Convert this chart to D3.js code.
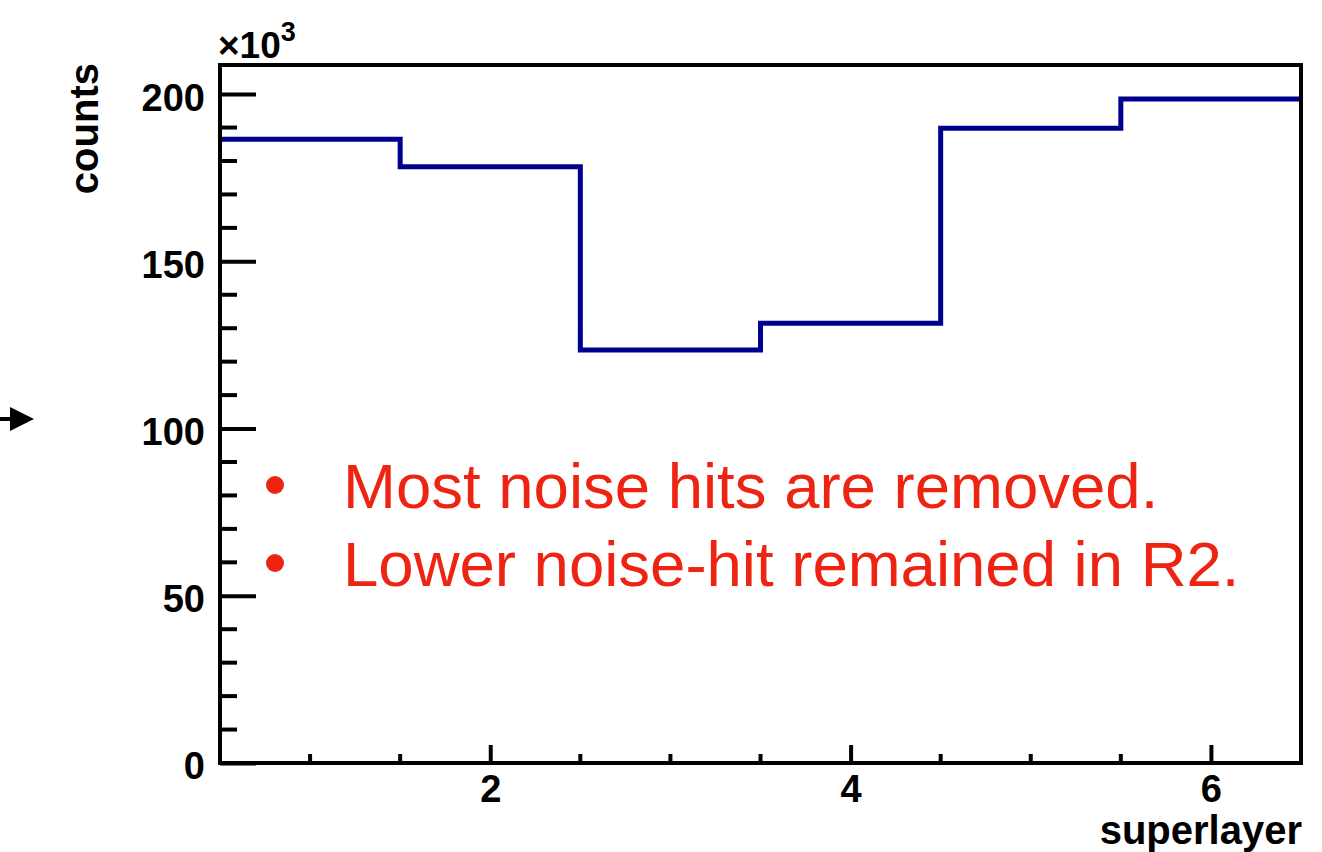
<!DOCTYPE html>
<html>
<head>
<meta charset="utf-8">
<script src="https://cdn.jsdelivr.net/npm/d3@7"></script>
<style>
  html, body { margin: 0; padding: 0; background: #fff; }
  svg { display: block; }
  text { font-family: "Liberation Sans", Arial, Helvetica, sans-serif; }
</style>
</head>
<body>
<svg id="chart" width="1322" height="852"></svg>
<script>
// Hit counts per superlayer, in units of 10^3
const superlayers = [1, 2, 3, 4, 5, 6];
const counts = [186.5, 178.3, 123.5, 131.5, 189.8, 198.5];
const xMajorTicks = [2, 4, 6];
const yMajorTicks = [0, 50, 100, 150, 200];
const notes = ["Most noise hits are removed.", "Lower noise-hit remained in R2."];

const svg = d3.select("#chart");
const frame = { left: 220, right: 1301, top: 65, bottom: 763 };

const x = d3.scaleLinear().domain([0.5, 6.5]).range([frame.left, frame.right]);
const y = d3.scaleLinear().domain([0, 208.7]).range([frame.bottom, frame.top]);

// Minor tick positions
const xMinor = d3.range(1, 6.01, 0.5).filter(v => !xMajorTicks.includes(v));
const yMinor = d3.range(10, 201, 10).filter(v => !yMajorTicks.includes(v));

// Y axis: ticks drawn inward (to the right of the axis line)
const yAxis = d3.axisLeft(y).tickValues(yMajorTicks).tickSize(-36).tickPadding(15).tickFormat(d3.format("d"));
const gy = svg.append("g").attr("transform", `translate(${frame.left},0)`).call(yAxis);
gy.select(".domain").remove();
gy.selectAll(".tick line").attr("stroke", "#000").attr("stroke-width", 4);
gy.selectAll(".tick text")
  .attr("font-size", 38).attr("font-weight", "bold").attr("fill", "#000")
  .attr("dy", "0.42em");
gy.selectAll(".minor").data(yMinor).enter().append("line")
  .attr("x1", 0).attr("x2", 17)
  .attr("y1", d => y(d)).attr("y2", d => y(d))
  .attr("stroke", "#000").attr("stroke-width", 4);

// X axis: ticks drawn inward (upward from the axis line)
const xAxis = d3.axisBottom(x).tickValues(xMajorTicks).tickSize(-18).tickPadding(12).tickFormat(d3.format("d"));
const gx = svg.append("g").attr("transform", `translate(0,${frame.bottom})`).call(xAxis);
gx.select(".domain").remove();
gx.selectAll(".tick line").attr("stroke", "#000").attr("stroke-width", 4);
gx.selectAll(".tick text")
  .attr("font-size", 38).attr("font-weight", "bold").attr("fill", "#000");
gx.selectAll(".minor").data(xMinor).enter().append("line")
  .attr("x1", d => x(d)).attr("x2", d => x(d))
  .attr("y1", 0).attr("y2", -9)
  .attr("stroke", "#000").attr("stroke-width", 4);

// Histogram outline
const edges = superlayers.map((s, i) => [s - 0.5, counts[i]]);
edges.push([superlayers[superlayers.length - 1] + 0.5, counts[counts.length - 1]]);
const step = d3.line().x(d => x(d[0])).y(d => y(d[1])).curve(d3.curveStepAfter);
svg.append("path")
  .attr("d", step(edges))
  .attr("fill", "none")
  .attr("stroke", "#00008f")
  .attr("stroke-width", 5)
  .attr("stroke-linejoin", "miter");

// Frame
svg.append("rect")
  .attr("x", frame.left).attr("y", frame.top)
  .attr("width", frame.right - frame.left).attr("height", frame.bottom - frame.top)
  .attr("fill", "none").attr("stroke", "#000").attr("stroke-width", 4);

// Axis titles
svg.append("text")
  .attr("transform", `translate(98,${frame.top - 2}) rotate(-90)`)
  .attr("text-anchor", "end")
  .attr("font-size", 40).attr("font-weight", "bold")
  .text("counts");
svg.append("text")
  .attr("x", frame.right + 1).attr("y", 844)
  .attr("text-anchor", "end")
  .attr("font-size", 40).attr("font-weight", "bold")
  .text("superlayer");

// Exponent label
const expo = svg.append("text")
  .attr("x", 218).attr("y", 58)
  .attr("font-size", 37).attr("font-weight", "bold");
expo.append("tspan").text("×10");
expo.append("tspan").attr("dy", -17).attr("font-size", 27).text("3");

// Annotation bullets
const noteG = svg.append("g");
notes.forEach((t, i) => {
  const base = 508 + i * 78;
  noteG.append("circle").attr("cx", 275).attr("cy", base - 23).attr("r", 9).attr("fill", "#ee2412");
  noteG.append("text")
    .attr("x", 343).attr("y", base)
    .attr("font-size", 63.5).attr("fill", "#ee2412")
    .text(t);
});

// Arrow at the left edge
svg.append("line")
  .attr("x1", 0).attr("y1", 419).attr("x2", 14).attr("y2", 419)
  .attr("stroke", "#000").attr("stroke-width", 4);
svg.append("path")
  .attr("d", "M10,407 L34,419 L10,431 Z")
  .attr("fill", "#000");
</script>
</body>
</html>
